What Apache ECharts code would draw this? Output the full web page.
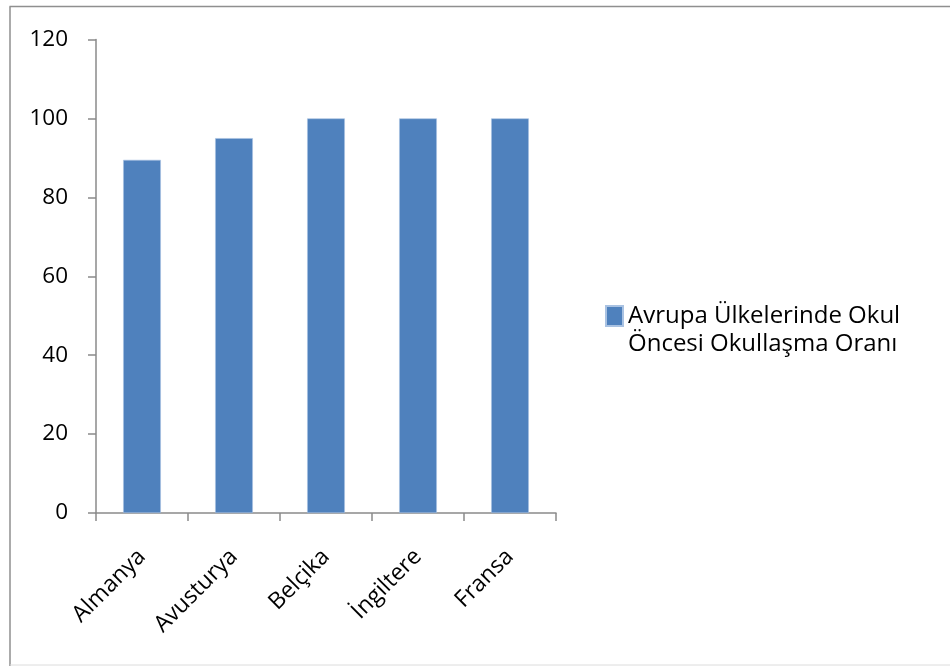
<!DOCTYPE html>
<html>
<head>
<meta charset="utf-8">
<script src="https://cdn.jsdelivr.net/npm/echarts@6/dist/echarts.min.js"></script>
<style>
  html, body { margin: 0; padding: 0; background: #fff; }
  #chart { width: 950px; height: 666px; }
</style>
</head>
<body>
<div id="chart"></div>
<script>
// Okul öncesi okullaşma oranları (%)
const countries = ['Almanya', 'Avusturya', 'Belçika', 'İngiltere', 'Fransa'];
const rates = [89.5, 95, 100, 100, 100];
const seriesName = 'Avrupa Ülkelerinde Okul Öncesi Okullaşma Oranı';
const legendLines = ['Avrupa Ülkelerinde Okul', 'Öncesi Okullaşma Oranı'];
const yTicks = [0, 20, 40, 60, 80, 100, 120];

const chart = echarts.init(document.getElementById('chart'));
const axisGrey = '#8a8a8a';
const fontFamily = '"Open Sans", "Noto Sans", sans-serif';

chart.setOption({
  animation: false,
  backgroundColor: '#ffffff',
  grid: { left: 96, right: 394, top: 39.5, bottom: 153 },
  legend: {
    data: [seriesName],
    left: 600,
    top: 269,
    orient: 'vertical',
    icon: 'rect',
    itemWidth: 17,
    itemHeight: 20,
    itemGap: 0,
    selectedMode: false,
    // leading blank line keeps the marker beside the first text line
    formatter: function () {
      return '\n' + legendLines.join('\n');
    },
    textStyle: {
      fontFamily: fontFamily,
      fontSize: 24,
      color: '#000',
      lineHeight: 28
    }
  },
  xAxis: {
    type: 'category',
    data: countries,
    boundaryGap: true,
    axisLine: { show: true, lineStyle: { color: axisGrey, width: 1.5 } },
    axisTick: { show: true, length: 8, lineStyle: { color: axisGrey, width: 1.5 } },
    axisLabel: {
      rotate: 45,
      interval: 0,
      margin: 40,
      fontFamily: fontFamily,
      fontSize: 23,
      color: '#000'
    }
  },
  yAxis: {
    type: 'value',
    min: yTicks[0],
    max: yTicks[yTicks.length - 1],
    interval: yTicks[1] - yTicks[0],
    axisLine: { show: true, lineStyle: { color: axisGrey, width: 1.5 } },
    axisTick: { show: true, length: 8, lineStyle: { color: axisGrey, width: 1.5 } },
    splitLine: { show: false },
    axisLabel: {
      margin: 28,
      fontFamily: fontFamily,
      fontSize: 22.5,
      color: '#000'
    }
  },
  series: [{
    name: seriesName,
    type: 'bar',
    data: rates,
    barWidth: '41%',
    itemStyle: { color: '#4f81bd', borderColor: '#a9c2e2', borderWidth: 0.6 }
  }],
  graphic: [
    { type: 'line', shape: { x1: 9.5, y1: 6.5, x2: 950, y2: 6.5 }, style: { stroke: '#8f8f8f', lineWidth: 1.5 } },
    { type: 'line', shape: { x1: 10, y1: 6.5, x2: 10, y2: 666 }, style: { stroke: '#8f8f8f', lineWidth: 1.5 } },
    { type: 'line', shape: { x1: 10, y1: 665, x2: 950, y2: 665 }, style: { stroke: '#dcdcdc', lineWidth: 1 } }
  ]
});
</script>
</body>
</html>
